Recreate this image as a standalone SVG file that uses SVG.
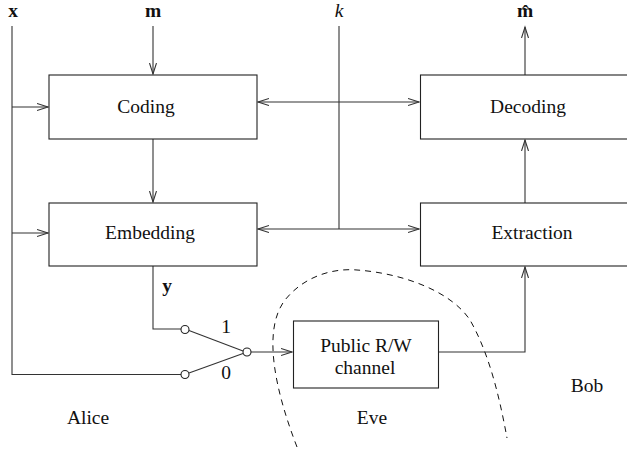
<svg xmlns="http://www.w3.org/2000/svg" width="627" height="453" viewBox="0 0 627 453">
<defs>
<style>
.box{fill:#fff;stroke:#222;stroke-width:1.1}
.ln{fill:none;stroke:#333;stroke-width:1.1}
.t{font-family:"Liberation Serif","DejaVu Serif",serif;font-size:19.5px;fill:#111;text-anchor:middle}
.b{font-weight:bold}
.i{font-style:italic}
.dash{fill:none;stroke:#111;stroke-width:1;stroke-dasharray:6 5}
.c{fill:#fff;stroke:#222;stroke-width:1.1}
</style>
<marker id="ah" markerUnits="userSpaceOnUse" markerWidth="14" markerHeight="10" refX="11" refY="4" orient="auto-start-reverse" viewBox="0 0 14 10">
<path d="M0,0.5 L11,4 L0,7.5" fill="none" stroke="#333" stroke-width="1.1"/>
</marker>
</defs>
<g id="connectors">
<line class="ln" x1="12" y1="26" x2="12" y2="375"/>
<line class="ln" x1="12" y1="107" x2="48" y2="107" marker-end="url(#ah)"/>
<line class="ln" x1="12" y1="233" x2="48" y2="233" marker-end="url(#ah)"/>
<line class="ln" x1="153" y1="26" x2="153" y2="74" marker-end="url(#ah)"/>
<line class="ln" x1="153" y1="139" x2="153" y2="202" marker-end="url(#ah)"/>
<line class="ln" x1="339" y1="26" x2="339" y2="229"/>
<line class="ln" x1="258" y1="102" x2="419" y2="102" marker-start="url(#ah)" marker-end="url(#ah)"/>
<line class="ln" x1="258" y1="229" x2="419" y2="229" marker-start="url(#ah)" marker-end="url(#ah)"/>
<line class="ln" x1="525" y1="75" x2="525" y2="27" marker-end="url(#ah)"/>
<line class="ln" x1="525" y1="203" x2="525" y2="140" marker-end="url(#ah)"/>
<polyline class="ln" points="439,352 525,352 525,267" marker-end="url(#ah)"/>
<polyline class="ln" points="153,266 153,329 181,329"/>
<line class="ln" x1="12" y1="374.5" x2="181" y2="374.5"/>
<line class="ln" x1="189" y1="330.5" x2="243" y2="351"/>
<line class="ln" x1="189" y1="373" x2="243" y2="353.5"/>
<line class="ln" x1="251" y1="352" x2="292" y2="352" marker-end="url(#ah)"/>
</g>
<g id="switch">
<circle class="c" cx="185" cy="329.5" r="4"/>
<circle class="c" cx="185" cy="374.5" r="4"/>
<circle class="c" cx="247" cy="352" r="4"/>
<text class="t" x="226" y="333">1</text>
<text class="t" x="226" y="379">0</text>
</g>
<g id="eve-boundary">
<path class="dash" d="M297,447 C275,390 262,330 285,300 C305,275 335,268 357,270 C400,273 450,290 470,320 C490,355 500,400 507,438"/>
</g>
<g id="coding">
<rect class="box" x="49" y="75" width="208" height="64"/>
<text class="t" x="146" y="113">Coding</text>
</g>
<g id="embedding">
<rect class="box" x="49" y="203" width="208" height="63"/>
<text class="t" x="150" y="239">Embedding</text>
</g>
<g id="decoding">
<rect class="box" x="420.5" y="75" width="215" height="64"/>
<text class="t" x="528" y="113">Decoding</text>
</g>
<g id="extraction">
<rect class="box" x="420.5" y="203" width="215" height="63"/>
<text class="t" x="532" y="239">Extraction</text>
</g>
<g id="channel">
<rect class="box" x="293.5" y="321" width="145" height="67"/>
<text class="t" x="366" y="352">Public R/W</text>
<text class="t" x="365" y="374">channel</text>
</g>
<g id="labels">
<text class="t b" x="13" y="17">x</text>
<text class="t b" x="153" y="17">m</text>
<text class="t i" x="339" y="17">k</text>
<text class="t b" x="525" y="17">m̂</text>
<text class="t b" x="167" y="292">y</text>
<text class="t" x="88" y="424">Alice</text>
<text class="t" x="372" y="424">Eve</text>
<text class="t" x="587" y="392">Bob</text>
</g>
</svg>
